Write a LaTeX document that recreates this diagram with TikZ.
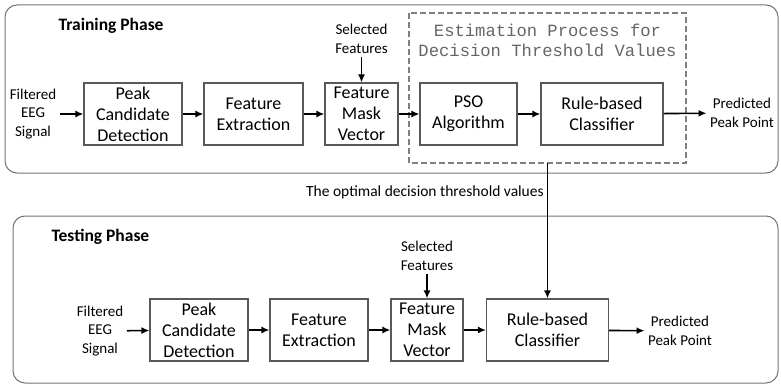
\documentclass[tikz,border=0pt]{standalone}
\usepackage{fontspec}
\setmainfont{Carlito}
\setmonofont{Liberation Mono}
\usetikzlibrary{arrows.meta}

\begin{document}
\begin{tikzpicture}
[
	x					= 1pt,
	y					= -1pt,
	phase/.style		=
	{
		draw			= black!55,
		line width		= 1pt,
		rounded corners	= 12pt
	},
	block/.style		=
	{
		draw			= black!65,
		line width		= 1.1pt,
		align			= center,
		minimum height	= 62pt,
		inner sep		= 0pt,
		font			= \fontsize{18}{21}\selectfont
	},
	label/.style		= {align = center, font = \fontsize{15}{18.5}\selectfont},
	title/.style		= {anchor = west, font = \fontsize{17.5}{20}\selectfont\bfseries},
	flow/.style			= {-{Latex[length=8pt,width=7pt]}, line width = 1.6pt},
]

\useasboundingbox (0,0) rectangle (781,385);

% training phase
\draw [phase] (5,5) rectangle (778,173);
\node [title] (traintitle) at (55,26) {Training Phase};

\draw [black!50, dash pattern = on 6pt off 3pt, line width = 1.2pt] (409,13) rectangle (686,163);
\coordinate (estbottom) at (547.5,163);
\node [black!60, align = center, font = \fontsize{17.2}{20}\ttfamily] (esttitle) at (547.5,40)
	{Estimation Process for\\Decision Threshold Values};

\node [label] (trainin) at (33,114) {Filtered\\EEG\\Signal};
\node [block, minimum width = 98pt] (trainpeak) at (133,114) {Peak\\Candidate\\Detection};
\node [block, minimum width = 99pt] (trainfeat) at (253.5,114) {Feature\\Extraction};
\node [block, minimum width = 73pt] (trainmask) at (361.5,114) {Feature\\Mask\\Vector};
\node [block, minimum width = 97pt] (pso) at (468.5,114) {PSO\\Algorithm};
\node [block, minimum width = 122pt] (trainrule) at (602,114) {Rule-based\\Classifier};
\node [label] (trainout) at (742,113) {Predicted\\Peak Point};
\node [label] (trainsel) at (361.5,39) {Selected\\Features};

\draw [flow] (trainin) -- (trainpeak);
\draw [flow] (trainpeak) -- (trainfeat);
\draw [flow] (trainfeat) -- (trainmask);
\draw [flow] (trainmask) -- (pso);
\draw [flow] (pso) -- (trainrule);
\draw [flow] (trainrule) -- (trainout);
\draw [flow] (trainsel) -- (trainmask);

% testing phase
\draw [phase] (13,216) rectangle (778,383);
\node [title] (testtitle) at (48,237) {Testing Phase};

\node [label] (testin) at (100,331) {Filtered\\EEG\\Signal};
\node [block, minimum width = 98pt] (testpeak) at (199,330) {Peak\\Candidate\\Detection};
\node [block, minimum width = 98pt] (testfeat) at (319,330) {Feature\\Extraction};
\node [block, minimum width = 72pt] (testmask) at (427,330) {Feature\\Mask\\Vector};
\node [block, minimum width = 122pt] (testrule) at (547.5,330) {Rule-based\\Classifier};
\node [label] (testout) at (680,331) {Predicted\\Peak Point};
\node [label] (testsel) at (427,256) {Selected\\Features};

\draw [flow] (testin) -- (testpeak);
\draw [flow] (testpeak) -- (testfeat);
\draw [flow] (testfeat) -- (testmask);
\draw [flow] (testmask) -- (testrule);
\draw [flow] (testrule) -- (testout);
\draw [flow] (testsel) -- (testmask);

% thresholds passed down
\draw [flow] (estbottom) -- (testrule.north)
	node [pos = 0.22, anchor = east, inner sep = 3pt, font = \fontsize{15.5}{18}\selectfont] (optlabel)
	{The optimal decision threshold values};

\end{tikzpicture}
\end{document}
